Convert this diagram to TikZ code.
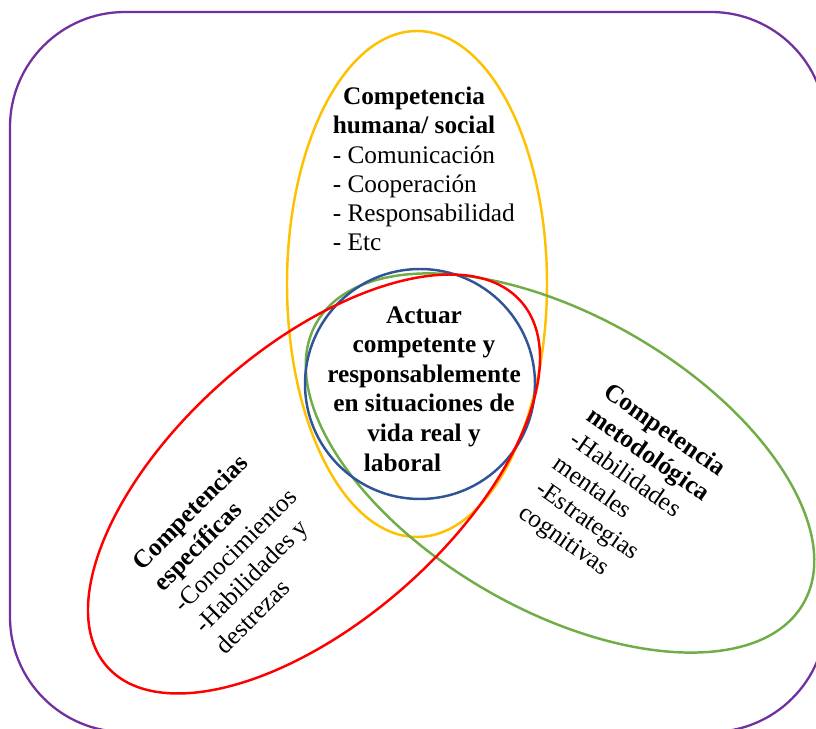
\documentclass[tikz,border=0pt]{standalone}
\usepackage{fontspec}
\setmainfont{Liberation Serif}
\usetikzlibrary{positioning}

\definecolor{ringpurple}{HTML}{7030A0}
\definecolor{ringgold}{HTML}{FFC000}
\definecolor{ringblue}{HTML}{2F5597}
\definecolor{ringred}{HTML}{FF0000}
\definecolor{ringgreen}{HTML}{70AD47}

\tikzset{
  ring/.style={line width=1.4pt},
  txt/.style={inner sep=0pt, align=left, font=\fontsize{14.4}{16.8}\selectfont},
}

\begin{document}
\begin{tikzpicture}[x=0.02cm, y=-0.02cm]
  \useasboundingbox (0,0) rectangle (816,729);
  \clip (0,0) rectangle (816,729);

  % outer frame
  \draw[ringpurple, line width=1.3pt, rounded corners=2.3cm] (10,12) rectangle (826,732);

  % ellipses
  \draw[ring, ringgold] (417,284) ellipse [x radius=130, y radius=253];
  \draw[ring, ringgreen, rotate around={-30:(560,463)}] (560,463) ellipse [x radius=281, y radius=147];
  \draw[ring, ringblue] (420,384) circle [radius=115];
  \draw[ring, ringred, rotate around={41.4:(314,484)}] (314,484) ellipse [x radius=276, y radius=137];

  % top: human / social
  \node[txt, align=center, font=\fontsize{14.4}{16.6}\selectfont\bfseries] (human) at (414,110) {Competencia\\humana/ social};
  \node[txt, font=\fontsize{14.4}{16.4}\selectfont, below right=0.24cm and 0cm of human.south west] (humanlist)
    {- Comunicación\\- Cooperación\\- Responsabilidad\\- Etc};

  % centre
  \node[txt, align=center, font=\fontsize{14.4}{16.8}\selectfont\bfseries] (core) at (424,389)
    {Actuar\\competente y\\responsablemente\\en situaciones de\\vida real y\\laboral\hspace*{0.86cm}};

  % left: specific
  \node[txt, rotate=45] (specific) at (235,550)
    {\textbf{Competencias}\\\textbf{específicas}\\-Conocimientos\\-Habilidades y\\destrezas};

  % right: methodological
  \node[txt, rotate=-35] (method) at (622,492)
    {\textbf{Competencia}\\\textbf{metodológica}\\-Habilidades\\mentales\\-Estrategias\\cognitivas};
\end{tikzpicture}
\end{document}
